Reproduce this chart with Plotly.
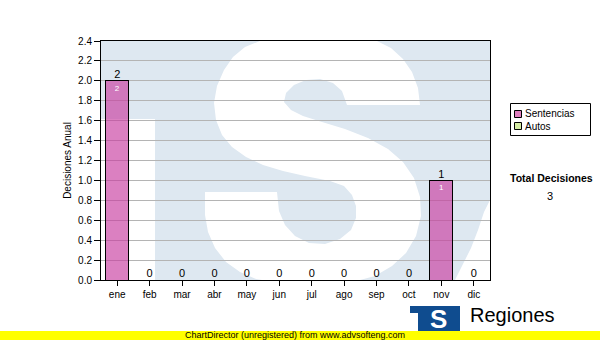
import plotly.graph_objects as go

months = ["ene", "feb", "mar", "abr", "may", "jun", "jul", "ago", "sep", "oct", "nov", "dic"]
sentencias = [2, 0, 0, 0, 0, 0, 0, 0, 0, 0, 1, 0]
autos = [0, 0, 0, 0, 0, 0, 0, 0, 0, 0, 0, 0]
series_names = ["Sentencias", "Autos"]
series_colors = ["rgba(200,60,160,0.65)", "#d4eca4"]
legend_swatch = ["#e080c0", "#d4eca4"]
total_label = "Total Decisiones"
total_value = sum(sentencias) + sum(autos)

FONT = "Liberation Sans, Arial, sans-serif"
W, H = 600, 340
PL, PR, PT, PB = 101, 490, 41, 280


def px2paper(x, y):
    return (x - PL) / (PR - PL), (PB - y) / (PB - PT)


def poly_path(pts):
    segs = []
    for i, (x, y) in enumerate(pts):
        u, v = px2paper(x, y)
        segs.append(("M" if i == 0 else "L") + f"{u:.4f},{v:.4f}")
    return " ".join(segs) + " Z"


# watermark (background logo) outlines in pixel space
wm_left = [(101, 119), (155, 119), (155, 280), (101, 280)]
wm_s = [
    (260, 41), (245, 47), (233, 57), (224, 70), (217, 86), (214, 103), (216, 120), (222, 135),
    (232, 147), (246, 157), (263, 165), (283, 171), (305, 176), (330, 181), (344, 186), (352, 195),
    (356, 206), (356, 218), (351, 230), (340, 239), (325, 244), (309, 243), (295, 236), (285, 225),
    (279, 211), (277, 192), (205, 192), (205, 215), (208, 232), (215, 248), (226, 262), (240, 272),
    (256, 279), (262, 280), (360, 280), (375, 276), (392, 266), (406, 253), (416, 236), (421, 216),
    (420, 197), (414, 178), (403, 162), (388, 149), (368, 138), (345, 129), (322, 122), (303, 116),
    (291, 110), (284, 102), (286, 93), (294, 85), (306, 80), (320, 79), (333, 83), (342, 91),
    (347, 105), (420, 105), (418, 88), (412, 72), (403, 59), (391, 48), (377, 41),
]
wm_right = [(490, 200), (484, 212), (478, 230), (471, 248), (463, 264), (455, 280), (490, 280)]

totals = [s + a for s, a in zip(sentencias, autos)]

fig = go.Figure()
fig.add_trace(go.Bar(
    name=series_names[0], x=months, y=sentencias,
    marker=dict(color=series_colors[0], line=dict(color="black", width=1)),
    width=0.71,
    text=[str(v) if v else "" for v in sentencias],
    textposition="inside", insidetextanchor="end",
    textfont=dict(color="white", size=8, family=FONT),
    hoverinfo="skip", showlegend=False,
))
fig.add_trace(go.Bar(
    name=series_names[1], x=months, y=autos,
    marker=dict(color=series_colors[1], line=dict(color="black", width=1)),
    width=0.71, hoverinfo="skip", showlegend=False,
))
fig.add_trace(go.Scatter(
    x=months, y=totals, mode="text", text=[str(t) for t in totals],
    textposition="top center", textfont=dict(color="black", size=11, family=FONT),
    showlegend=False, cliponaxis=False, hoverinfo="skip",
))

shapes = [
    dict(type="path", xref="paper", yref="paper", path=poly_path(p), layer="below",
         fillcolor="white", line=dict(width=0))
    for p in (wm_left, wm_s, wm_right)
]


def rect_px(x0, y0, x1, y1, color, line=None):
    u0, v0 = px2paper(x0, y0)
    u1, v1 = px2paper(x1, y1)
    return dict(type="rect", xref="paper", yref="paper", x0=u0, y0=v0, x1=u1, y1=v1,
                fillcolor=color, line=line or dict(width=0), layer="above")


# legend box
shapes.append(rect_px(510.5, 103.5, 590.5, 135.5, "white", dict(color="black", width=1)))
for i, c in enumerate(legend_swatch):
    y0 = 110.5 + i * 12
    shapes.append(rect_px(514.5, y0, 521.5, y0 + 7, c, dict(color="black", width=1)))

# footer logo and yellow band
shapes.append(rect_px(410, 306, 460, 340, "#0f4c8f"))
shapes.append(rect_px(410, 313, 418, 340, "white"))
shapes.append(rect_px(0, 331, 600, 340, "#ffff00"))

annotations = []


def ann_px(x, y, text, size, color="black", bold=False, xanchor="center"):
    u, v = px2paper(x, y)
    annotations.append(dict(
        x=u, y=v, xref="paper", yref="paper", text=f"<b>{text}</b>" if bold else text,
        showarrow=False, xanchor=xanchor, yanchor="middle",
        font=dict(size=size, color=color, family=FONT),
    ))


for i, name in enumerate(series_names):
    ann_px(523, 114 + i * 12, name, 10, xanchor="left")

ann_px(551, 178, total_label, 10.5, bold=True)
ann_px(550, 196, str(total_value), 11)
ann_px(438, 319, "S", 26, color="white", bold=True)
ann_px(468, 315, "Regiones", 20, xanchor="left")
ann_px(295, 335, "ChartDirector (unregistered) from www.advsofteng.com", 9)

fig.update_layout(
    width=W, height=H,
    margin=dict(l=PL, r=W - PR, t=PT, b=H - PB, autoexpand=False),
    paper_bgcolor="white", plot_bgcolor="#dee8f1",
    barmode="stack", bargap=0.29, showlegend=False,
    font=dict(family=FONT, size=10, color="black"),
    shapes=shapes, annotations=annotations,
    xaxis=dict(type="category", range=[-0.5, 11.5], showline=True, linecolor="black",
               linewidth=1, mirror=True, ticks="outside", ticklen=5, tickcolor="black",
               showgrid=False, tickfont=dict(size=10, family=FONT)),
    yaxis=dict(range=[0, 2.4], dtick=0.2, tickformat=".1f", showline=True, linecolor="black",
               linewidth=1, mirror=True, ticks="outside", ticklen=6, tickcolor="black",
               showgrid=True, gridcolor="#b4b4b4", gridwidth=1, zeroline=False,
               tickfont=dict(size=10, family=FONT),
               title=dict(text="Decisiones Anual", font=dict(size=10, family=FONT), standoff=4)),
)

fig.write_html("out.html")
